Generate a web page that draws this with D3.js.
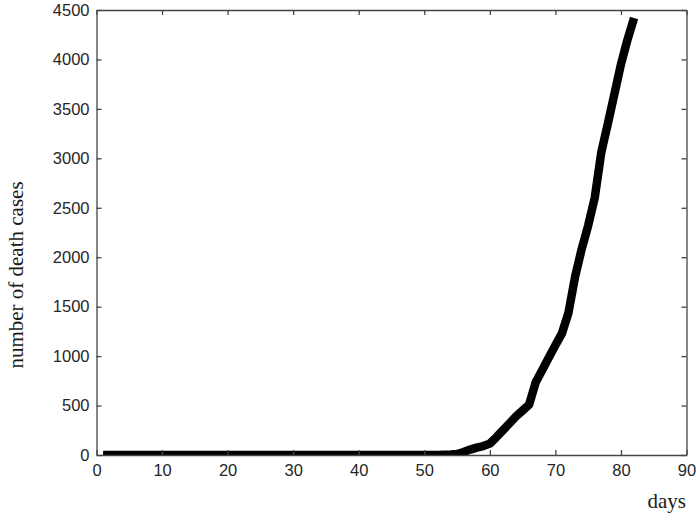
<!DOCTYPE html>
<html>
<head>
<meta charset="utf-8">
<script src="https://cdn.jsdelivr.net/npm/d3@7"></script>
<style>
  body { margin: 0; background: #fff; }
  .tick text { font-family: "Liberation Sans", Arial, sans-serif; font-size: 16.5px; fill: #262626; }
  .lbl { font-family: "Liberation Serif", "Times New Roman", serif; font-size: 21px; fill: #1a1a1a; }
</style>
</head>
<body>
<script>
// cumulative death cases, one value per day starting at day 1
var firstDay = 1;
var deaths = [
  0, 0, 0, 0, 0, 0, 0, 0, 0, 0,
  0, 0, 0, 0, 0, 0, 0, 0, 0, 0,
  0, 0, 0, 0, 0, 0, 0, 0, 0, 0,
  0, 0, 0, 0, 0, 0, 0, 0, 0, 0,
  0, 0, 0, 0, 0, 0, 0, 0, 0, 0,
  0, 0, 2, 5, 10, 30, 55, 75, 90, 115,
  180, 250, 320, 390, 450, 510, 735, 860, 985, 1110,
  1230, 1440, 1800, 2080, 2320, 2600, 3060, 3350, 3650, 3950,
  4200, 4420
];
var xTicks = [0, 10, 20, 30, 40, 50, 60, 70, 80, 90];
var yTicks = [0, 500, 1000, 1500, 2000, 2500, 3000, 3500, 4000, 4500];

var W = 696, H = 520;
var margin = {top: 10, right: 9.5, bottom: 65, left: 96.5};
var width = W - margin.left - margin.right;
var height = H - margin.top - margin.bottom;

var svg = d3.select('body').append('svg')
    .attr('width', W)
    .attr('height', H);

var g = svg.append('g')
    .attr('transform', 'translate(' + margin.left + ',' + margin.top + ')');

var x = d3.scaleLinear().domain([0, 90]).range([0, width]);
var y = d3.scaleLinear().domain([0, 4500]).range([height, 0]);

var axisColor = '#444';

// clip the thick line to the axes box
svg.append('defs').append('clipPath').attr('id', 'plotclip')
  .append('rect').attr('width', width).attr('height', height);

var data = deaths.map(function(v, i) { return {day: firstDay + i, val: v}; });

var line = d3.line()
    .x(function(d) { return x(d.day); })
    .y(function(d) { return y(d.val); });

g.append('path')
    .datum(data)
    .attr('clip-path', 'url(#plotclip)')
    .attr('fill', 'none')
    .attr('stroke', '#000')
    .attr('stroke-width', 8.5)
    .attr('stroke-linejoin', 'round')
    .attr('d', line);

// bottom + left axes with labels, ticks pointing inward
var xAxis = g.append('g')
    .attr('transform', 'translate(0,' + height + ')')
    .call(d3.axisBottom(x).tickValues(xTicks).tickFormat(d3.format('d'))
      .tickSizeInner(-5).tickSizeOuter(0).tickPadding(9));
var yAxis = g.append('g')
    .call(d3.axisLeft(y).tickValues(yTicks).tickFormat(d3.format('d'))
      .tickSizeInner(-5).tickSizeOuter(0).tickPadding(7));

// top + right axes, ticks only
var xTop = g.append('g')
    .call(d3.axisTop(x).tickValues(xTicks).tickSizeInner(-5).tickSizeOuter(0).tickFormat(''));
var yRight = g.append('g')
    .attr('transform', 'translate(' + width + ',0)')
    .call(d3.axisRight(y).tickValues(yTicks).tickSizeInner(-5).tickSizeOuter(0).tickFormat(''));

[xAxis, yAxis, xTop, yRight].forEach(function(a) {
  a.selectAll('.domain').attr('stroke', axisColor).attr('stroke-width', 1.3);
  a.selectAll('.tick line').attr('stroke', axisColor).attr('stroke-width', 1.3);
});

// axis labels
svg.append('text')
    .attr('class', 'lbl')
    .attr('x', 686)
    .attr('y', 508)
    .attr('text-anchor', 'end')
    .text('days');

svg.append('text')
    .attr('class', 'lbl')
    .attr('transform', 'translate(23,275) rotate(-90)')
    .attr('text-anchor', 'middle')
    .text('number of death cases');
</script>
</body>
</html>
